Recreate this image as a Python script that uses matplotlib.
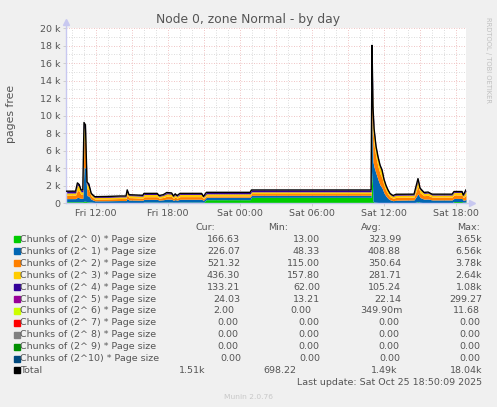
import numpy as np
import matplotlib
matplotlib.use('Agg')
import matplotlib.pyplot as plt
from matplotlib.patches import Rectangle

# hours since Fri 00:00 and free chunks (pages) per order
hours = [9.50, 10.30, 10.45, 10.60, 10.75, 10.90, 11.00, 11.12, 11.25, 11.40,
         11.60, 11.90, 13.00, 14.00, 14.50, 14.60, 14.75, 15.90, 16.00, 17.10,
         17.25, 17.60, 17.90, 18.30, 18.45, 18.60, 18.75, 19.00, 20.80, 20.95,
         21.20, 24.85, 24.95, 34.92, 35.00, 35.08, 35.17, 35.33, 35.50, 35.67,
         35.83, 36.00, 36.17, 36.33, 36.50, 36.75, 37.00, 38.50, 38.83, 39.00,
         39.33, 39.67, 40.00, 41.67, 41.83, 42.50, 42.60, 42.83]
order0 = [150, 150, 150, 150, 150, 150, 200, 200, 150, 140,
          100, 50, 50, 60, 60, 80, 60, 60, 100, 100,
          80, 90, 100, 100, 80, 90, 80, 100, 100, 80,
          380, 380, 650, 650, 3650, 200, 100, 80, 60, 50,
          40, 30, 25, 20, 15, 13, 20, 30, 150, 80,
          40, 40, 30, 30, 170, 170, 60, 166.63]
order1 = [350, 350, 500, 450, 380, 380, 3900, 3800, 700, 650,
          330, 200, 210, 220, 220, 450, 280, 260, 320, 320,
          250, 280, 350, 330, 230, 300, 240, 330, 330, 220,
          280, 280, 230, 230, 6560, 4500, 4000, 3300, 2600, 2000,
          1700, 1100, 750, 500, 350, 250, 300, 320, 900, 550,
          400, 420, 320, 320, 350, 350, 250, 226.07]
order2 = [400, 400, 800, 750, 450, 450, 3000, 2900, 800, 700,
          330, 200, 210, 230, 230, 450, 280, 240, 300, 300,
          230, 260, 330, 320, 220, 300, 230, 300, 300, 200,
          160, 160, 200, 200, 3780, 3500, 2500, 1800, 1500, 1300,
          1150, 850, 650, 500, 350, 280, 320, 330, 900, 550,
          400, 420, 330, 330, 400, 400, 300, 521.32]
order3 = [250, 250, 600, 530, 300, 300, 1500, 1450, 500, 450,
          220, 170, 180, 190, 190, 350, 230, 220, 250, 250,
          200, 230, 280, 270, 190, 250, 200, 250, 250, 170,
          230, 230, 200, 200, 2640, 2000, 1400, 1000, 850, 750,
          700, 550, 420, 340, 270, 220, 250, 230, 600, 380,
          260, 260, 230, 230, 280, 280, 200, 436.30]
order4 = [180, 180, 220, 200, 190, 190, 500, 480, 200, 200,
          100, 85, 85, 85, 85, 140, 85, 85, 110, 110,
          80, 80, 120, 110, 70, 90, 80, 100, 100, 70,
          150, 150, 190, 190, 1080, 650, 400, 250, 220, 180,
          170, 140, 120, 110, 90, 70, 90, 80, 200, 120,
          90, 90, 80, 80, 90, 90, 80, 133.21]
order5 = [20, 20, 30, 30, 25, 25, 100, 90, 50, 45,
          20, 15, 15, 15, 15, 30, 15, 15, 20, 20,
          10, 10, 20, 20, 10, 20, 20, 20, 20, 10,
          20, 20, 20, 20, 299.27, 150, 100, 70, 50, 40,
          40, 30, 25, 25, 20, 15, 20, 20, 40, 25,
          20, 20, 20, 20, 20, 20, 15, 24.03]
order6 = [0] * 6 + [2, 2] + [0] * 26 + [11.68, 3, 1] + [0] * 20 + [2]
zeros = [0] * len(hours)

labels = ['Chunks of (2^ 0) * Page size', 'Chunks of (2^ 1) * Page size',
          'Chunks of (2^ 2) * Page size', 'Chunks of (2^ 3) * Page size',
          'Chunks of (2^ 4) * Page size', 'Chunks of (2^ 5) * Page size',
          'Chunks of (2^ 6) * Page size', 'Chunks of (2^ 7) * Page size',
          'Chunks of (2^ 8) * Page size', 'Chunks of (2^ 9) * Page size',
          'Chunks of (2^10) * Page size', 'Total']
colors = ['#00CC00', '#0066B3', '#FF8000', '#FFCC00', '#330099', '#990099',
          '#CCFF00', '#FF0000', '#808080', '#008F00', '#00487D', '#000000']
cur_vals = ['166.63', '226.07', '521.32', '436.30', '133.21', '24.03', '2.00',
            '0.00', '0.00', '0.00', '0.00', '1.51k']
min_vals = ['13.00', '48.33', '115.00', '157.80', '62.00', '13.21', '0.00',
            '0.00', '0.00', '0.00', '0.00', '698.22']
avg_vals = ['323.99', '408.88', '350.64', '281.71', '105.24', '22.14', '349.90m',
            '0.00', '0.00', '0.00', '0.00', '1.49k']
max_vals = ['3.65k', '6.56k', '3.78k', '2.64k', '1.08k', '299.27', '11.68',
            '0.00', '0.00', '0.00', '0.00', '18.04k']
xtick_hours = [12, 18, 24, 30, 36, 42]
xtick_labels = ['Fri 12:00', 'Fri 18:00', 'Sat 00:00', 'Sat 06:00', 'Sat 12:00', 'Sat 18:00']

W, H = 497, 407
TXT = '#555555'
FS = 6.8

def fx(x):
    return x / W

def fy(y):
    return 1 - y / H

fig = plt.figure(figsize=(W / 100, H / 100), dpi=100, facecolor='#F0F0F0')
ax = fig.add_axes([fx(66), fy(203), 400 / W, 175 / H])
ax.set_facecolor('white')
t = np.array(hours)
t_start, t_end = 9.5, 42.83
ax.set_xlim(t_start, t_end)
ax.set_ylim(0, 20000)

# grid
for h in range(10, 43):
    major = h % 3 == 0
    ax.axvline(h, color='#EBB0B0' if major else '#D0D0D0', lw=0.6,
               ls=(0, (1, 2)), zorder=0)
for v in range(1000, 20001, 1000):
    major = v % 2000 == 0
    ax.axhline(v, color='#EBB0B0' if major else '#D0D0D0', lw=0.6,
               ls=(0, (1, 2)), zorder=0)

series = [order0, order1, order2, order3, order4, order5, order6,
          zeros, zeros, zeros, zeros]
bottom = np.zeros(len(t))
for vals, c in zip(series, colors):
    top = bottom + np.array(vals, dtype=float)
    ax.fill_between(t, bottom, top, color=c, lw=0, zorder=2)
    bottom = top
ax.plot(t, bottom, color='black', lw=1, zorder=3)

for s in ['top', 'right']:
    ax.spines[s].set_visible(False)
for s in ['left', 'bottom']:
    ax.spines[s].set_color('#C8C8F0')
    ax.spines[s].set_linewidth(1)
ax.plot([0, 0], [1, 1.03], color='#C8C8F0', lw=1, transform=ax.transAxes, clip_on=False)
ax.plot([1, 1.012], [0, 0], color='#C8C8F0', lw=1, transform=ax.transAxes, clip_on=False)
ax.plot(0, 1.035, marker='^', color='#C8C8F0', ms=4, transform=ax.transAxes, clip_on=False)
ax.plot(1.015, 0, marker='>', color='#C8C8F0', ms=4, transform=ax.transAxes, clip_on=False)

ax.set_yticks(range(0, 20001, 2000))
ax.set_yticklabels(['0'] + ['%d k' % (v // 1000) for v in range(2000, 20001, 2000)])
ax.set_xticks(xtick_hours)
ax.set_xticklabels(xtick_labels)
ax.tick_params(axis='both', length=2, width=0.6, color='#C8C8C8', labelsize=FS,
               labelcolor=TXT, pad=2)

fig.text(fx(248), fy(19), 'Node 0, zone Normal - by day', ha='center', va='center',
         fontsize=8.9, color=TXT)
fig.text(fx(11), fy(114), 'pages free', rotation=90, ha='center', va='center',
         fontsize=7.8, color=TXT)
fig.text(fx(488), fy(17), 'RRDTOOL / TOBI OETIKER', rotation=270, ha='center', va='top',
         fontsize=4.9, color='#C0C0C0')

# legend table
fig.text(fx(196), fy(228), 'Cur:', ha='left', va='center', fontsize=FS, color=TXT)
fig.text(fx(268), fy(228), 'Min:', ha='left', va='center', fontsize=FS, color=TXT)
fig.text(fx(361), fy(228), 'Avg:', ha='left', va='center', fontsize=FS, color=TXT)
fig.text(fx(457), fy(228), 'Max:', ha='left', va='center', fontsize=FS, color=TXT)
right_edges = {6: (234, 311, 403, 480), 7: (238, 319, 399, 480), 8: (238, 319, 399, 480),
               9: (238, 319, 399, 480), 10: (241, 320, 400, 480), 11: (205, 296, 397, 482)}
for i, lab in enumerate(labels):
    y = 239.5 + 11.9 * i
    fig.patches.append(Rectangle((fx(14), fy(y + 3)), 6 / W, 6 / H, color=colors[i],
                                 transform=fig.transFigure, figure=fig))
    fig.text(fx(20.5), fy(y), lab, ha='left', va='center', fontsize=FS, color=TXT)
    xs = right_edges.get(i, (240, 320, 401, 482))
    for xr, vals in zip(xs, [cur_vals, min_vals, avg_vals, max_vals]):
        fig.text(fx(xr), fy(y), vals[i], ha='right', va='center', fontsize=FS, color=TXT)
fig.text(fx(482), fy(382.5), 'Last update: Sat Oct 25 18:50:09 2025', ha='right',
         va='center', fontsize=FS, color=TXT)
fig.text(fx(248), fy(397), 'Munin 2.0.76', ha='center', va='center', fontsize=5.4,
         color='#C8C8C8')

fig.savefig('out.png', dpi=100, facecolor=fig.get_facecolor())
